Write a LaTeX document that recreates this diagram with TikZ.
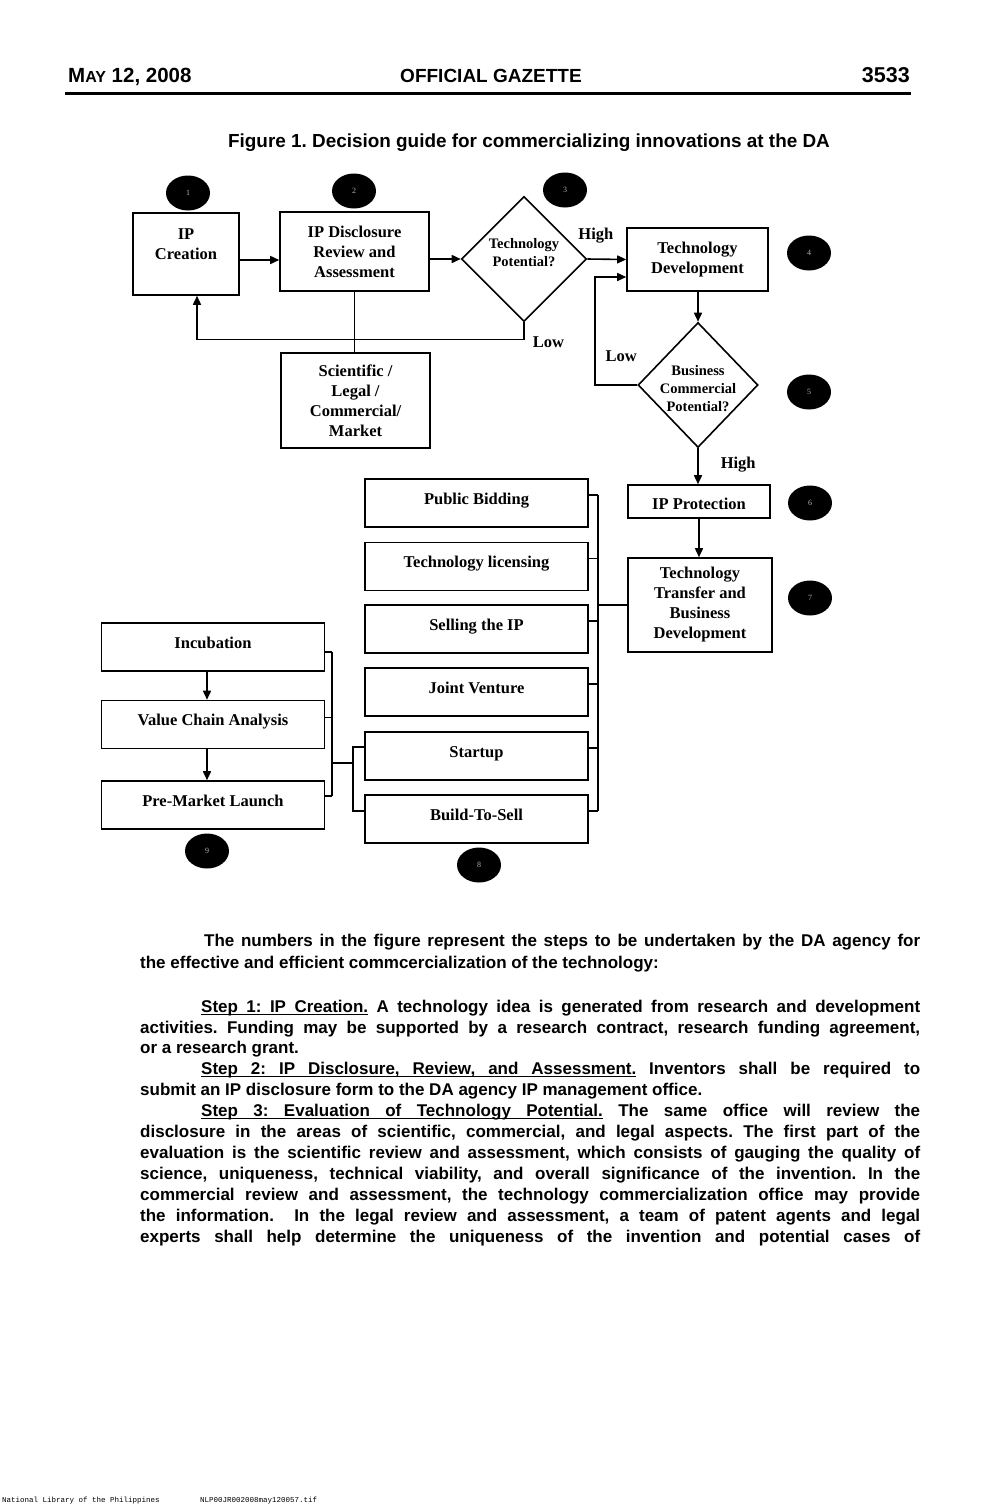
\documentclass[tikz,border=0pt]{standalone}
\usepackage{fontspec}
\setmainfont{Liberation Serif}
\newfontfamily\arialfont{Liberation Sans}
\newfontfamily\typefont{Liberation Mono}
\usetikzlibrary{shapes.geometric, arrows.meta, positioning, calc}
\frenchspacing
\newcommand{\fillline}[2]{\makebox[#1][s]{#2}}
% underlined words whose spaces still stretch
\newcommand{\ulw}[1]{\setbox0\hbox{#1}\rlap{\vrule height -1.8pt depth 3.4pt width \wd0}\box0\relax}
\newcommand{\ulsp}{\leaders\hrule height -1.8pt depth 3.4pt\hskip\fontdimen2\font plus\fontdimen3\font minus\fontdimen4\font\relax}
\def\ulrun#1 #2\ulend{\ulw{#1}\ifx\relax#2\relax\else\ulsp\ulrun#2\ulend\fi}
\newcommand{\ulstep}[1]{\ulrun#1 \ulend}
\tikzset{
	blk/.style   ={rectangle, draw=black, line width=1.6pt, align=center, inner sep=2pt, font=\bfseries\fontsize{16.5}{20}\selectfont},
	optbox/.style={blk, minimum width=223pt, minimum height=48pt, text height=9pt, text depth=7pt},
	dec/.style   ={diamond, draw=black, line width=1.6pt, align=center, inner sep=0pt, font=\bfseries\fontsize{14.5}{18}\selectfont},
	badge/.style ={ellipse, fill=black, minimum width=44pt, minimum height=35pt, inner sep=0pt, text=white!70!black, font=\fontsize{8}{8}\selectfont},
	sig/.style   ={-{Triangle[length=9pt, width=8pt]}, line width=1.6pt},
	wire/.style  ={line width=1.6pt},
	lbl/.style   ={inner sep=0pt, font=\bfseries\fontsize{16.5}{20}\selectfont},
	body/.style  ={anchor=base west, inner sep=0pt, font=\arialfont\bfseries\fontsize{17}{21}\selectfont},
	head/.style  ={anchor=base, inner sep=0pt, font=\arialfont\bfseries\fontsize{19}{20}\selectfont},
}

\begin{document}
\begin{tikzpicture}[x=1pt, y=-1pt]
	\useasboundingbox (0,0) rectangle (991,1508);
	% page head
	\node[head, anchor=base west, font=\arialfont\bfseries\fontsize{20.5}{20}\selectfont] (date) at (68,82) {M{\fontsize{16}{16}\selectfont AY} 12, 2008};
	\node[head] (gazette) at (491,82) {OFFICIAL GAZETTE};
	\node[head, anchor=base east, font=\arialfont\bfseries\fontsize{21.5}{20}\selectfont] (pageno) at (910,82) {3533};
	\draw[line width=2.6pt] (65,93.5) -- (911,93.5);
	\node[head, font=\arialfont\bfseries\fontsize{18.9}{20}\selectfont] (title) at (529,147) {Figure 1. Decision guide for commercializing innovations at the DA};

	% step numbers
	\node[badge] (n1) at (188,193) {1};
	\node[badge] (n2) at (354,191) {2};
	\node[badge] (n3) at (565,190) {3};
	\node[badge] (n4) at (809,253) {4};
	\node[badge] (n5) at (809,392) {5};
	\node[badge] (n6) at (810,503) {6};
	\node[badge] (n7) at (810,598) {7};
	\node[badge] (n8) at (479,865) {8};
	\node[badge] (n9) at (207,851) {9};

	% evaluation chain
	\node[blk, minimum width=106pt, minimum height=82pt, text height=22pt, text depth=12pt] (crea) at (186,254) {IP\\Creation};
	\node[blk, minimum width=149pt, minimum height=79pt] (disc) at (354.5,251.5) {IP Disclosure\\Review and\\Assessment};
	\node[dec, minimum width=125pt, minimum height=125pt, text height=30pt, text depth=16pt] (tpot) at (524,259) {Technology\\Potential?};
	\node[blk, minimum width=149pt, minimum height=95pt] (sci) at (355.5,400.5) {Scientific /\\Legal /\\Commercial/\\Market};
	\node[blk, minimum width=141pt, minimum height=63pt] (tdev) at (697.5,259.5) {Technology\\Development};
	\node[dec, minimum width=120pt, minimum height=125pt, text height=52pt, text depth=0pt] (bpot) at (698,385) {\makebox[0pt]{Business}\\\makebox[0pt]{Commercial}\\\makebox[0pt]{Potential?}};
	\node[blk, minimum width=142pt, minimum height=33pt, text height=15pt, text depth=0pt] (iprot) at (699,501.5) {IP Protection};
	\node[blk, minimum width=144pt, minimum height=94pt] (ttbd) at (700,605) {Technology\\Transfer and\\Business\\Development};

	% modes of transfer
	\node[optbox] (pb) at (476.5,503) {Public Bidding};
	\node[optbox] (tl) at (476.5,566.5) {Technology licensing};
	\node[optbox] (si) at (476.5,629) {Selling the IP};
	\node[optbox] (jv) at (476.5,692) {Joint Venture};
	\node[optbox] (su) at (476.5,756) {Startup};
	\node[optbox] (bs) at (476.5,819) {Build-To-Sell};
	\node[optbox] (inc) at (213,647) {Incubation};
	\node[optbox] (vca) at (213,724.5) {Value Chain Analysis};
	\node[optbox] (pml) at (213,805) {Pre-Market Launch};

	\coordinate (rbus) at (598,0);
	\coordinate (lbus) at (332,0);
	\coordinate (mbus) at (353,0);
	\coordinate (ljoin) at (332,763);

	\draw[sig] ([yshift=-6pt]crea.east) -- ([yshift=-6pt]crea.east -| disc.west);
	\draw[sig] (disc.east |- tpot.west) -- (tpot.west);
	\draw[sig] (tpot.east) -- node[lbl, above=15pt, pos=0.22] {High} (tdev.west);
	\draw[sig] (tpot.south) -- ++(0,17) node[lbl, anchor=west, xshift=8pt, yshift=-3pt] {Low} -| ([xshift=11pt]crea.south);
	\draw[wire] (disc.south) -- (disc.south |- sci.north);
	\draw[sig] (tdev.south -| bpot.north) -- (bpot.north);
	\draw[sig] (bpot.west) -- node[lbl, above=23pt, pos=0.38] {Low} ++(-42,0) |- ([yshift=-17.5pt]tdev.west);
	\draw[sig] (bpot.south) -- node[lbl, anchor=west, xshift=22pt, pos=0.46] {High} (bpot.south |- iprot.north);
	\draw[sig] (iprot.south) -- (iprot.south |- ttbd.north);

	\foreach \o in {pb,tl,si,jv,su,bs}
		\draw[wire] ([yshift=8pt]\o.east) -- ([yshift=8pt]\o.east -| rbus);
	\draw[wire] ([yshift=8pt]pb.east -| rbus) -- ([yshift=8pt]bs.east -| rbus);
	\draw[wire] (ttbd.west) -- (ttbd.west -| rbus);

	\draw[sig] ([xshift=-6pt]inc.south) -- ([xshift=-6pt]vca.north);
	\draw[sig] ([xshift=-6pt]vca.south) -- ([xshift=-6pt]pml.north);
	\draw[wire] ([yshift=-5pt]inc.east) -- ([yshift=-5pt]inc.east -| lbus);
	\draw[wire] ([yshift=7pt]vca.east) -- ([yshift=7pt]vca.east -| lbus);
	\draw[wire] ([yshift=9pt]pml.east) -- ([yshift=9pt]pml.east -| lbus);
	\draw[wire] ([yshift=-5pt]inc.east -| lbus) -- ([yshift=9pt]pml.east -| lbus);
	\draw[wire] (ljoin) -- (ljoin -| mbus);
	\draw[wire] ([yshift=9pt]su.west) -- ([yshift=9pt]su.west -| mbus) -- ([yshift=8pt]bs.west -| mbus) -- ([yshift=8pt]bs.west);

	% text below the figure
	\node[body] (p1a) at (204,946) {\fillline{716pt}{The numbers in the figure represent the steps to be undertaken by the DA agency for}};
	\node[body] (p1b) at (140,968) {the effective and efficient commcercialization of the technology:};
	\node[body] (p2a) at (201,1012) {\fillline{719pt}{\ulstep{Step 1: IP Creation.} A technology idea is generated from research and development}};
	\node[body] (p2b) at (140,1033) {\fillline{780pt}{activities. Funding may be supported by a research contract, research funding agreement,}};
	\node[body] (p2c) at (140,1053) {or a research grant.};
	\node[body] (p3a) at (201,1074) {\fillline{719pt}{\ulstep{Step 2: IP Disclosure, Review, and Assessment.} Inventors shall be required to}};
	\node[body] (p3b) at (140,1095) {submit an IP disclosure form to the DA agency IP management office.};
	\node[body] (p4a) at (201,1116) {\fillline{719pt}{\ulstep{Step 3: Evaluation of Technology Potential.} The same office will review the}};
	\node[body] (p4b) at (140,1137) {\fillline{780pt}{disclosure in the areas of scientific, commercial, and legal aspects. The first part of the}};
	\node[body] (p4c) at (140,1158) {\fillline{780pt}{evaluation is the scientific review and assessment, which consists of gauging the quality of}};
	\node[body] (p4d) at (140,1179) {\fillline{780pt}{science, uniqueness, technical viability, and overall significance of the invention. In the}};
	\node[body] (p4e) at (140,1200) {\fillline{780pt}{commercial review and assessment, the technology commercialization office may provide}};
	\node[body] (p4f) at (140,1221) {\fillline{780pt}{the information.~ In the legal review and assessment, a team of patent agents and legal}};
	\node[body] (p4g) at (140,1242) {\fillline{780pt}{experts shall help determine the uniqueness of the invention and potential cases of}};

	% scan footer
	\node[anchor=base west, inner sep=0pt, font=\typefont\fontsize{7.5}{8}\selectfont] (lib) at (2,1502) {National Library of the Philippines};
	\node[anchor=base west, inner sep=0pt, font=\typefont\fontsize{7.5}{8}\selectfont] (tif) at (200,1502) {NLP00JR002008may120057.tif};
\end{tikzpicture}
\end{document}
